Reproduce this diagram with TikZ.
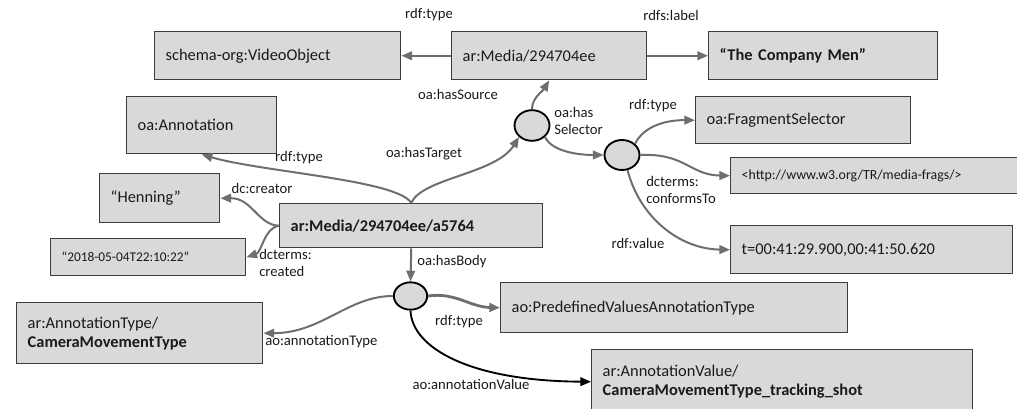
\documentclass[tikz,border=0pt]{standalone}
\usepackage{fontspec}
\setmainfont{Carlito}
\usetikzlibrary{arrows.meta,shapes.geometric}
\definecolor{boxfill}{HTML}{D9D9D9}
\definecolor{boxline}{HTML}{3C3C3C}
\definecolor{arrowgray}{HTML}{6E6E6E}
\definecolor{txt}{HTML}{1A1A1A}
\newcommand\fmain{\fontsize{12.3}{14.3}\selectfont}
\newcommand\flab{\fontsize{11}{12.75}\selectfont}
\newcommand\fsmallA{\fontsize{10.4}{12}\selectfont}
\newcommand\fsmallB{\fontsize{10}{12}\selectfont}
\begin{document}
\begin{tikzpicture}[x=0.75pt,y=-0.75pt,
  box/.style={draw=boxline, fill=boxfill, line width=1.1pt, anchor=north west,
    align=left, inner xsep=8.25pt, inner ysep=0pt, font=\fmain, text=txt},
  blank/.style={ellipse, draw=black, fill=boxfill, line width=1.4pt, inner sep=0pt},
  rel/.style={draw=arrowgray, line width=1.5pt, -{Triangle[length=8pt,width=6.5pt]}},
  relthick/.style={rel, line width=2.1pt},
  relblack/.style={draw=black, line width=1.4pt, -{Triangle[length=8pt,width=6.5pt]}},
  lab/.style={font=\flab, text=txt, inner sep=0pt},
]
\useasboundingbox (0,0) rectangle (1017,409);
\clip (0,0) rectangle (1017,409);

% boxes
\node[box, text width=168pt, minimum height=36pt] (vo) at (154,31) {schema-org:VideoObject};
\node[box, text width=129.75pt, minimum height=36pt] (media) at (451,31) {ar:Media/294704ee};
\node[box, text width=155.25pt, minimum height=36pt] (cm) at (708,31) {\textbf{“The Company Men”}};
\node[box, text width=96pt, minimum height=42.75pt] (ann) at (126,96) {oa:Annotation};
\node[box, text width=144.75pt, minimum height=35.25pt] (fs) at (695,96) {oa:FragmentSelector};
\node[box, text width=208.5pt, minimum height=27pt, font=\fsmallA] (mf) at (730,157) {<http://www.w3.org/TR/media-frags/>};
\node[box, text width=73.5pt, minimum height=36.75pt] (hen) at (99,173) {“Henning”};
\node[box, text width=180.75pt, minimum height=33pt] (a5) at (279,203) {\textbf{ar:Media/294704ee/a5764}};
\node[box, text width=195pt, minimum height=36pt] (tv) at (730,225) {t=00:41:29.900,00:41:50.620};
\node[box, text width=129.75pt, minimum height=27.75pt, font=\fsmallB] (date) at (50,238) {“2018-05-04T22:10:22”};
\node[box, text width=243.75pt, minimum height=37.5pt] (pv) at (500,282) {ao:PredefinedValuesAnnotationType};
\node[box, text width=168pt, minimum height=45.75pt] (at) at (16,302) {ar:AnnotationType/\\\textbf{CameraMovementType}};
\node[box, text width=269.25pt, minimum height=48pt] (av) at (591,349) {ar:AnnotationValue/\\\textbf{CameraMovementType\_tracking\_shot}};

% blank nodes
\node[blank, minimum width=26.25pt, minimum height=23pt] (sel1) at (532,125.5) {};
\node[blank, minimum width=26.25pt, minimum height=22.5pt] (sel2) at (622,155) {};
\node[blank, minimum width=25pt, minimum height=20.5pt] (body) at (410.5,296) {};

% connectors
\draw[rel] (media.west) -- (vo.east);
\draw[rel] (media.east) -- (cm.west);
\draw[rel] (sel1.north) .. controls (532,98) and (542,92) .. (media.south);
\draw[rel] (a5.north) .. controls (398,180) and (262,172) .. (ann.south);
\draw[rel] (a5.north) .. controls (422,178) and (496,174) .. (sel1.south west);
\draw[rel] (sel1.south east) .. controls (552,152) and (580,155) .. (sel2.west);
\draw[rel] (sel2.north east) .. controls (645,124) and (670,120) .. (fs.west);
\draw[rel] (sel2.east) .. controls (685,153) and (690,175) .. (mf.west);
\draw[rel] (sel2.-70) .. controls (640,218) and (680,249) .. (tv.west);
\draw[rel] (a5.west) .. controls (258,225) and (252,198) .. (hen.east);
\draw[rel] (a5.west) .. controls (264,228) and (262,252) .. (date.east);
\draw[rel] (a5.south) -- (body.north);
\draw[relthick] (body.east) .. controls (455,292) and (470,307) .. (pv.west);
\draw[rel] (body.west) .. controls (348,296) and (322,333) .. (at.east);
\draw[relblack] (body.south) .. controls (412,348) and (470,381) .. (av.west);

% edge labels
\node[lab] (l1) at (429,15) {rdf:type};
\node[lab] (l2) at (671,15) {rdfs:label};
\node[lab] (l3) at (458,94) {oa:hasSource};
\node[lab, align=left, anchor=west] (l4) at (554,121) {oa:has\\Selector};
\node[lab] (l5) at (653,106) {rdf:type};
\node[lab, align=left, anchor=west] (l6) at (646,190) {dcterms:\\conformsTo};
\node[lab] (l7) at (638,243) {rdf:value};
\node[lab] (l8) at (299,158) {rdf:type};
\node[lab] (l9) at (424,154) {oa:hasTarget};
\node[lab] (l10) at (262,188) {dc:creator};
\node[lab, align=left, anchor=west] (l11) at (259,263) {dcterms:\\created};
\node[lab, anchor=west] (l12) at (417,262) {oa:hasBody};
\node[lab] (l13) at (459,322) {rdf:type};
\node[lab, anchor=west] (l14) at (265,342) {ao:annotationType};
\node[lab] (l15) at (471,384) {ao:annotationValue};
\end{tikzpicture}
\end{document}
